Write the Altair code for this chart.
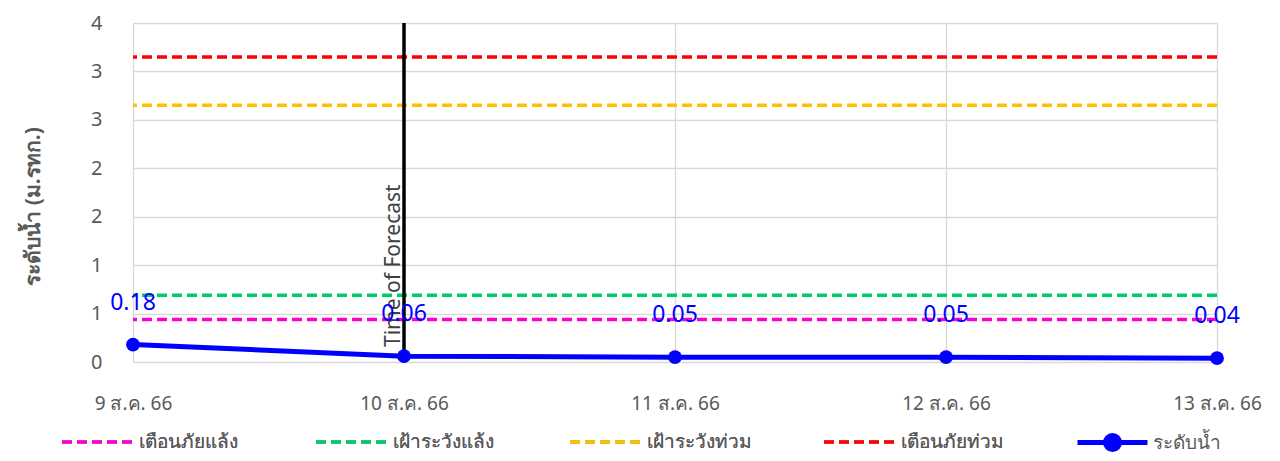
import altair as alt
import pandas as pd

# ---- data ----
dates = ["9 ส.ค. 66", "10 ส.ค. 66", "11 ส.ค. 66", "12 ส.ค. 66", "13 ส.ค. 66"]
levels = [0.18, 0.06, 0.05, 0.05, 0.04]
series_name = "ระดับน้ำ"

threshold_names = ["เตือนภัยแล้ง", "เฝ้าระวังแล้ง", "เฝ้าระวังท่วม", "เตือนภัยท่วม"]
threshold_values = [0.44, 0.69, 2.65, 3.15]
threshold_colors = ["#FF00CC", "#00CC66", "#FFC000", "#FF0000"]

forecast_date = "10 ส.ค. 66"
forecast_label = "Time of Forecast"
forecast_label_y = 0.155

y_ticks = [0, 0.5, 1, 1.5, 2, 2.5, 3, 3.5]
y_title = "ระดับน้ำ (ม.รทก.)"

FONT = "Noto Sans, DejaVu Sans, sans-serif"
GRAY = "#595959"
GRID = "#D9D9D9"
BLUE = "#0000FF"
DASH = [10, 5]

water_df = pd.DataFrame({"date": dates, "value": levels, "series": [series_name] * len(dates)})
thr_df = pd.DataFrame({"name": threshold_names, "value": threshold_values})
fc_df = pd.DataFrame({"date": [forecast_date]})

X = alt.X(
    "date:N",
    sort=dates,
    scale=alt.Scale(type="point", domain=dates, padding=0),
    axis=alt.Axis(
        title=None, labelAngle=0, grid=True, ticks=False, domain=False,
        labelPadding=32, labelFontSize=19, labelColor=GRAY, labelFont=FONT,
        gridColor=GRID, gridWidth=1.3,
    ),
)
Y = alt.Y(
    "value:Q",
    scale=alt.Scale(domain=[0, 3.5], nice=False, zero=True),
    axis=alt.Axis(
        values=y_ticks, format=".0f", grid=True, ticks=False, domain=False,
        labelPadding=31, labelFontSize=20, labelColor=GRAY, labelFont=FONT,
        gridColor=GRID, gridWidth=1.3,
        title=y_title, titleFont=FONT, titleFontSize=21, titleFontWeight="bold",
        titleColor=GRAY, titleX=-100, titleY=183, titleAngle=270,
        titleAlign="center", titleBaseline="middle",
    ),
)

LEG_Y = 382

thr_legend = alt.Legend(
    title=None, orient="none", legendX=-73, legendY=LEG_Y, direction="horizontal",
    columns=4, gridAlign="all", columnPadding=65, padding=0,
    symbolType="stroke", symbolSize=4900, symbolStrokeWidth=3.5, symbolDash=DASH,
    labelOffset=5, labelFontSize=19, labelColor=GRAY, labelFont=FONT,
)

thresholds = alt.Chart(thr_df).mark_rule(strokeWidth=3.5).encode(
    y=Y,
    color=alt.Color("name:N", scale=alt.Scale(domain=threshold_names, range=threshold_colors),
                    legend=thr_legend),
    strokeDash=alt.StrokeDash("name:N", scale=alt.Scale(domain=threshold_names,
                                                        range=[DASH] * 4),
                              legend=thr_legend),
)

fc_line = alt.Chart(fc_df).mark_rule(color="black", strokeWidth=3.5).encode(x=X)

fc_text = alt.Chart(fc_df).mark_text(
    angle=270, align="left", baseline="bottom", fontSize=21, font=FONT,
    color="#404040", text=forecast_label,
).encode(x=X, y=alt.datum(forecast_label_y))

water_line = alt.Chart(water_df).mark_line(color=BLUE, strokeWidth=5).encode(x=X, y=Y)

water_legend = alt.Legend(
    title=None, orient="none", legendX=942, legendY=LEG_Y, padding=0,
    symbolType="M-1,0L1,0M-0.2,0A0.2,0.2,0,1,0,0.2,0A0.2,0.2,0,1,0,-0.2,0Z",
    symbolSize=4900, symbolStrokeColor=BLUE, symbolStrokeWidth=5,
    symbolFillColor=BLUE, labelOffset=3, labelFontSize=19, labelColor=GRAY, labelFont=FONT,
)

water_pts = alt.Chart(water_df).mark_circle(size=190, opacity=1).encode(
    x=X, y=Y,
    color=alt.Color("series:N", scale=alt.Scale(domain=[series_name], range=[BLUE]),
                    legend=water_legend),
)

water_lbl = alt.Chart(water_df).mark_text(
    color=BLUE, fontSize=23, font=FONT, dy=-42, baseline="middle",
).encode(x=X, y=Y, text=alt.Text("value:Q", format=".2f"))

chart = (
    alt.layer(thresholds, fc_line, fc_text, water_line, water_pts, water_lbl)
    .resolve_scale(color="independent")
    .properties(
        width=1084, height=339,
        padding={"left": 125, "top": 15, "right": 50, "bottom": 91},
        autosize=alt.AutoSizeParams(type="none"),
        background="white",
    )
    .configure_view(strokeWidth=0)
)

chart.save("out.html", embed_options={"renderer": "svg", "actions": False})
